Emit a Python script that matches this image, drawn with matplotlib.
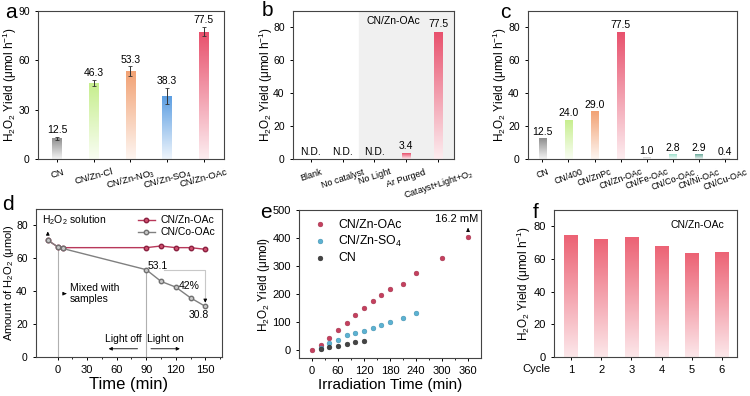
import numpy as np
import matplotlib
matplotlib.use('Agg')
import matplotlib.pyplot as plt
from matplotlib.colors import LinearSegmentedColormap

plt.rcParams['font.family'] = ['Liberation Sans', 'DejaVu Sans']
plt.rcParams['mathtext.fontset'] = 'custom'
plt.rcParams['mathtext.rm'] = 'Liberation Sans'
plt.rcParams['mathtext.it'] = 'Liberation Sans:italic'
plt.rcParams['axes.linewidth'] = 0.8
plt.rcParams['axes.edgecolor'] = '#444444'
plt.rcParams['xtick.major.size'] = 2.5
plt.rcParams['ytick.major.size'] = 2.5
plt.rcParams['xtick.minor.size'] = 1.5
plt.rcParams['xtick.major.width'] = 0.7
plt.rcParams['ytick.major.width'] = 0.7

# ---- data ----
# a: anion of zinc precursor
a_labels = ['CN', 'CN/Zn-Cl', 'CN/Zn-NO$_3$', 'CN/Zn-SO$_4$', 'CN/Zn-OAc']
a_values = [12.5, 46.3, 53.3, 38.3, 77.5]
a_errors = [1.0, 2.0, 3.0, 5.0, 3.0]
a_colors = ['#8e8e8e', '#c6ee8c', '#f2a274', '#5c9ee2', '#e8506c']

# b: control experiments
b_labels = ['Blank', 'No catalyst', 'No Light', 'Ar Purged', 'Catayst+Light+O$_2$']
b_values = [0, 0, 0, 3.4, 77.5]
b_texts = ['N.D.', 'N.D.', 'N.D.', '3.4', '77.5']

# c: different catalysts
c_labels = ['CN', 'CN/400', 'CN/ZnPc', 'CN/Zn-OAc', 'CN/Fe-OAc', 'CN/Co-OAc', 'CN/Ni-OAc', 'CN/Cu-OAc']
c_values = [12.5, 24.0, 29.0, 77.5, 1.0, 2.8, 2.9, 0.4]
c_colors = ['#8e8e8e', '#c6ee8c', '#f2a274', '#e8506c', '#d0d0d0', '#9ee0cc', '#6aaa9a', '#d8d8d8']

# d: H2O2 decomposition
d_time = [-10, 0, 5, 90, 105, 120, 135, 150]
d_zn = [71, 67, 66.5, 66.5, 67.5, 66.5, 66.5, 65.5]
d_co = [71, 67, 66, 53.1, 46, 42.5, 36, 30.8]

# e: long-term production
e_time_zn = [0, 20, 40, 60, 80, 100, 120, 140, 160, 180, 210, 240, 300, 360]
e_zn = [0, 18, 44, 72, 96, 125, 148, 176, 197, 218, 236, 274, 330, 404]
e_time_so4 = [20, 40, 60, 80, 100, 120, 140, 160, 180, 210, 240]
e_so4 = [5, 23, 35, 52, 61, 67, 79, 88, 100, 115, 133]
e_time_cn = [20, 40, 60, 80, 100, 120]
e_cn = [3, 10, 13, 21, 27, 32]

# f: cycling
f_cycles = [1, 2, 3, 4, 5, 6]
f_values = [74.5, 72.5, 73.5, 68, 63.5, 64.5]

fs_tick = 7.5
fs_ylab = 8.5
fs_val = 7.5


def grad_bars(ax, x, heights, width, colors, bottom_mix=0.9):
    bars = ax.bar(x, heights, width, color='none', edgecolor='none')
    grad = np.linspace(0, 1, 256).reshape(-1, 1)
    for b, col in zip(bars, colors):
        if b.get_height() <= 0:
            continue
        c = np.array(matplotlib.colors.to_rgb(col))
        light = c + (1 - c) * bottom_mix
        cmap = LinearSegmentedColormap.from_list('g', [light, c])
        x0 = b.get_x()
        im = ax.imshow(grad, extent=[x0, x0 + b.get_width(), 0, b.get_height()],
                       origin='lower', aspect='auto', cmap=cmap, zorder=2)
        im.set_clip_path(b)
    return bars


def style_xticks(ax, labels, rot, size):
    ax.set_xticks(range(len(labels)))
    ax.set_xticklabels(labels, rotation=rot, fontsize=size, ha='center')


def small_arrow(ax, start, end):
    ax.annotate('', xy=end, xytext=start,
                arrowprops=dict(arrowstyle='-|>', color='k', lw=0.6, mutation_scale=5))


fig = plt.figure(figsize=(7.5, 3.96), dpi=100)

# ---- a ----
ax = fig.add_axes([0.0507, 0.5985, 0.248, 0.3737])
xa = np.arange(len(a_values))
grad_bars(ax, xa, a_values, 0.27, a_colors)
ax.errorbar(xa, a_values, yerr=a_errors, fmt='none', ecolor='#333333', elinewidth=0.7,
            capsize=1.5, capthick=0.6, zorder=3)
for xi, v, e in zip(xa, a_values, a_errors):
    ax.text(xi, v + e + 1, f'{v:.1f}', ha='center', va='bottom', fontsize=fs_val)
ax.set_xlim(-0.52, 4.55)
ax.set_ylim(0, 90)
ax.set_yticks([0, 30, 60, 90])
style_xticks(ax, a_labels, 15, 6.8)
ax.tick_params(axis='y', labelsize=fs_tick)
ax.set_ylabel('H$_2$O$_2$ Yield (μmol h$^{-1}$)', fontsize=fs_ylab)
ax.yaxis.set_label_coords(-0.1, 0.5)

# ---- b ----
ax = fig.add_axes([0.3907, 0.5985, 0.2147, 0.3737])
xb = np.arange(len(b_values))
ax.axvspan(1.5, 4.6, color='#f0f0f0', zorder=0)
grad_bars(ax, xb, b_values, 0.26, ['#e8506c'] * 5)
for xi, v, t in zip(xb, b_values, b_texts):
    ax.text(xi, v + 1.5, t, ha='center', va='bottom', fontsize=fs_val)
ax.text(2.6, 84, 'CN/Zn-OAc', ha='center', va='center', fontsize=7.5)
ax.set_xlim(-0.56, 4.5)
ax.set_ylim(0, 90)
ax.set_yticks([0, 20, 40, 60, 80])
style_xticks(ax, b_labels, 18, 6.5)
ax.tick_params(axis='y', labelsize=fs_tick)
ax.set_ylabel('H$_2$O$_2$ Yield (μmol h$^{-1}$)', fontsize=fs_ylab)
ax.yaxis.set_label_coords(-0.115, 0.5)

# ---- c ----
ax = fig.add_axes([0.704, 0.5985, 0.2787, 0.3737])
xc = np.arange(len(c_values))
grad_bars(ax, xc, c_values, 0.28, c_colors)
for xi, v in zip(xc, c_values):
    ax.text(xi, v + 0.8, f'{v:.1f}', ha='center', va='bottom', fontsize=fs_val)
ax.set_xlim(-0.55, 7.45)
ax.set_ylim(0, 90)
ax.set_yticks([0, 20, 40, 60, 80])
style_xticks(ax, c_labels, 20, 6.3)
ax.tick_params(axis='y', labelsize=fs_tick)
ax.set_ylabel('H$_2$O$_2$ Yield (μmol h$^{-1}$)', fontsize=fs_ylab)
ax.yaxis.set_label_coords(-0.09, 0.5)

# ---- d ----
ax = fig.add_axes([0.048, 0.0985, 0.248, 0.3737])
ax.plot([0, 0], [0, d_co[1]], color='#b0b0b0', lw=0.8, zorder=1)
ax.plot([90, 90], [0, d_co[3]], color='#b0b0b0', lw=0.8, zorder=1)
ax.plot(d_time, d_zn, '-o', color='#b8385a', mfc='#d0506e', mec='#8a2040', ms=3.2,
        lw=1.0, label='CN/Zn-OAc', zorder=3)
ax.plot(d_time, d_co, '-o', color='#808080', mfc='#c8c8c8', mec='#707070', ms=3.2,
        lw=1.0, label='CN/Co-OAc', zorder=4)
small_arrow(ax, (-10, 73), (-10, 78))
ax.text(-16, 83, 'H$_2$O$_2$ solution', fontsize=7.5, ha='left', va='center')
small_arrow(ax, (5, 38.5), (9, 38.5))
ax.text(12.5, 38.5, 'Mixed with\nsamples', fontsize=7.5, ha='left', va='center', linespacing=1.15)
ax.text(91, 55.5, '53.1', fontsize=7.5, ha='left', va='center')
ax.plot([108, 150, 150], [52.7, 52.7, 36], color='#c8c8c8', lw=0.8, zorder=1)
small_arrow(ax, (150, 36), (150, 33))
ax.text(134, 43, '42%', fontsize=7.5, ha='center', va='center')
ax.text(143, 25.6, '30.8', fontsize=7.5, ha='center', va='center')
ax.text(67, 11, 'Light off', fontsize=7.5, ha='center', va='center')
ax.text(109, 11, 'Light on', fontsize=7.5, ha='center', va='center')
small_arrow(ax, (84, 5), (49, 5))
small_arrow(ax, (92, 5), (127, 5))
ax.set_xlim(-22, 167)
ax.set_ylim(0, 90)
ax.set_xticks([0, 30, 60, 90, 120, 150])
ax.set_xticks(np.arange(15, 166, 30), minor=True)
ax.set_yticks([0, 20, 40, 60, 80])
ax.tick_params(axis='x', labelsize=8)
ax.tick_params(axis='y', labelsize=fs_tick)
ax.set_xlabel('Time (min)', fontsize=12, labelpad=1)
ax.set_ylabel('Amount of H$_2$O$_2$ (μmol)', fontsize=8)
ax.yaxis.set_label_coords(-0.108, 0.5)
ax.legend(loc='upper right', frameon=False, fontsize=7.5, handlelength=1.6,
          borderaxespad=0.2, labelspacing=0.2, handletextpad=0.6)

# ---- e ----
ax = fig.add_axes([0.3987, 0.096, 0.2427, 0.3737])
ax.scatter(e_time_zn, e_zn, s=12, color='#c4405e', edgecolor='#9a2c48', lw=0.3,
           label='CN/Zn-OAc', zorder=3)
ax.scatter(e_time_so4, e_so4, s=12, color='#5cb2d2', edgecolor='#3a88a8', lw=0.3,
           label='CN/Zn-SO$_4$', zorder=3)
ax.scatter(e_time_cn, e_cn, s=12, color='#444444', edgecolor='#222222', lw=0.3,
           label='CN', zorder=3)
small_arrow(ax, (360, 420), (360, 446))
ax.text(333, 468, '16.2 mM', fontsize=8, ha='center', va='center')
ax.set_xlim(-30, 390)
ax.set_ylim(-29, 500)
ax.set_xticks([0, 60, 120, 180, 240, 300, 360])
ax.set_xticks(np.arange(30, 390, 60), minor=True)
ax.set_yticks([0, 100, 200, 300, 400, 500])
ax.tick_params(labelsize=8)
ax.set_xlabel('Irradiation Time (min)', fontsize=11, labelpad=1)
ax.set_ylabel('H$_2$O$_2$ Yield (μmol)', fontsize=8.5)
ax.yaxis.set_label_coords(-0.15, 0.5)
ax.legend(loc='upper left', frameon=False, fontsize=8.8, handletextpad=0.5,
          borderaxespad=0.4, labelspacing=0.25, scatterpoints=1, borderpad=0.3)

# ---- f ----
ax = fig.add_axes([0.7387, 0.0985, 0.244, 0.371])
grad_bars(ax, f_cycles, f_values, 0.44, ['#ec6274'] * 6, bottom_mix=0.85)
ax.text(0.93, 0.9, 'CN/Zn-OAc', transform=ax.transAxes, ha='right', va='center', fontsize=7.5)
ax.text(-0.02, -0.08, 'Cycle', transform=ax.transAxes, ha='right', va='center', fontsize=8)
ax.set_xlim(0.44, 6.5)
ax.set_ylim(0, 90)
ax.set_xticks(f_cycles)
ax.set_yticks([0, 20, 40, 60, 80])
ax.tick_params(labelsize=8)
ax.set_ylabel('H$_2$O$_2$ Yield (μmol h$^{-1}$)', fontsize=fs_ylab)
ax.yaxis.set_label_coords(-0.115, 0.5)

# panel letters
for lab, px, py in [('a', 11, 13), ('b', 267, 10), ('c', 505, 12),
                    ('d', 8, 205), ('e', 266, 212), ('f', 536, 213)]:
    fig.text(px / 750, 1 - py / 396, lab, fontsize=15, ha='center', va='center')

fig.savefig('out.png', dpi=100)
